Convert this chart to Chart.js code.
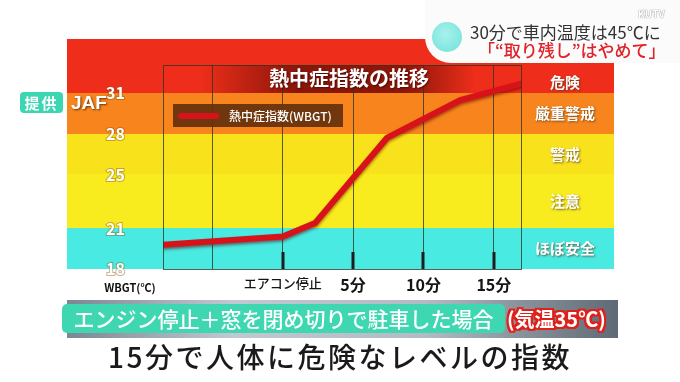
<!DOCTYPE html>
<html><head><meta charset="utf-8">
<script src="https://cdn.jsdelivr.net/npm/chart.js@4/dist/chart.umd.min.js"></script>
<style>
html,body{margin:0;padding:0;background:#fff;width:680px;height:382px;overflow:hidden;font-family:"Noto Sans CJK JP",sans-serif;}
#wrap{position:relative;width:680px;height:382px;}
canvas{position:absolute;left:0;top:0;}
.abs{position:absolute;white-space:nowrap;}
</style></head><body>
<div id="wrap">
<canvas id="c" width="680" height="382"></canvas>
<div class="abs" style="left:425px;top:0;width:255px;height:63px;background:#fbfbfb;border-bottom-left-radius:26px;"></div>
<div class="abs" style="left:432px;top:22px;width:30px;height:30px;border-radius:50%;background:radial-gradient(circle at 45% 40%,#a8f2ec,#6fe0d8);"></div>
<div class="abs" style="left:470px;top:21px;font-size:17px;line-height:22px;color:#333;">30分で車内温度は45℃に</div>
<div class="abs" style="left:478px;top:39px;font-size:17px;line-height:22px;color:#e0222a;font-weight:500;">「“取り残し”はやめて」</div>
<div class="abs" style="left:638px;top:6px;font-size:10px;font-weight:bold;color:#fff;text-shadow:0 0 1px #888,0 0 1px #888;">KUTV</div>
<div class="abs" style="left:20px;top:92px;width:43px;height:21px;background:#3cd6b2;border-radius:4px;color:#fff;font-size:15px;line-height:21px;font-weight:bold;text-align:center;letter-spacing:2px;">提供</div>
<div class="abs" style="left:71px;top:90px;font-size:19px;line-height:26px;color:#fff;font-weight:bold;font-family:'Liberation Sans',sans-serif;text-shadow:1px 1px 2px rgba(80,30,0,0.8);">JAF</div>
<div class="abs" style="left:67px;top:300px;width:551px;height:38px;background:linear-gradient(90deg,#7c8794,#c2c8cf 30%,#b3bac2 65%,#5f6a76);"></div>
<div class="abs" style="left:62px;top:304px;width:443px;height:29px;background:#3fd7b2;border-radius:5px;color:#fff;font-size:21px;line-height:29px;font-weight:500;text-align:center;">エンジン停止＋窓を閉め切りで駐車した場合</div>
<div class="abs" style="left:507px;top:304px;font-size:20px;line-height:29px;color:#fff;font-weight:bold;text-shadow:2px 0 0 #e0201a,-2px 0 0 #e0201a,0 2px 0 #e0201a,0 -2px 0 #e0201a,2px 2px 0 #e0201a,-2px -2px 0 #e0201a,2px -2px 0 #e0201a,-2px 2px 0 #e0201a;">(気温35℃)</div>
<div class="abs" style="left:0;top:338px;width:680px;text-align:center;font-size:28px;line-height:36px;color:#1a1a1a;font-weight:500;letter-spacing:2.5px;">15分で人体に危険なレベルの指数</div>
</div>
<script>
// ---- data ----
const times = [-8.5, 0, 2.3, 7.4, 12.6, 16.9];          // minutes relative to A/C stop
const wbgt = [19.8, 20.4, 21.4, 27.7, 30.5, 31.7];      // WBGT (°C)
const xTickValues = [-5, 0, 5, 10, 15];
const xTickLabels = ['', 'エアコン停止', '5分', '10分', '15分'];
const yTickValues = [18, 21, 25, 28, 31];
const bandEdges = [18, 21, 25, 28, 31, 35];
const bandNames = ['ほぼ安全', '注意', '警戒', '厳重警戒', '危険'];
const seriesLabel = '熱中症指数(WBGT)';
const chartTitle = '熱中症指数の推移';
const yUnit = 'WBGT(℃)';

const bandColors = ['#48eae2', '#f8ec1e', '#f8e21c', '#f7841c', '#ee2e1a'];
const FONT = '"Noto Sans CJK JP", sans-serif';
const gridColor = 'rgba(45,55,35,0.8)';

const decor = {
  id: 'decor',
  beforeDraw(chart) {
    const {ctx, chartArea: a, scales: {y}} = chart;
    ctx.save();
    for (let i = 0; i < bandNames.length; i++) {
      const yt = Math.round(y.getPixelForValue(bandEdges[i + 1]));
      const yb = Math.round(y.getPixelForValue(bandEdges[i]));
      ctx.fillStyle = bandColors[i];
      ctx.fillRect(67, yt, 547, yb - yt);
    }
    const g = ctx.createLinearGradient(200, 0, 475, 0);
    g.addColorStop(0, 'rgba(130,20,8,0)');
    g.addColorStop(0.35, 'rgba(130,20,8,0.92)');
    g.addColorStop(0.75, 'rgba(130,20,8,0.9)');
    g.addColorStop(1, 'rgba(130,20,8,0)');
    ctx.fillStyle = g;
    ctx.fillRect(200, a.top, 275, 28);
    ctx.restore();
  },
  beforeDatasetDraw(chart) {
    const ctx = chart.ctx;
    ctx.save();
    ctx.shadowColor = 'rgba(100,0,0,0.55)';
    ctx.shadowBlur = 3;
    ctx.shadowOffsetY = 2;
  },
  afterDatasetDraw(chart) { chart.ctx.restore(); },
  afterDraw(chart) {
    const {ctx, chartArea: a, scales: {x, y}} = chart;
    ctx.save();
    ctx.strokeStyle = gridColor; ctx.lineWidth = 1;
    ctx.strokeRect(a.left + 0.5, a.top + 0.5, a.right - a.left - 1, a.bottom - a.top);
    ctx.strokeStyle = '#1e1e1e'; ctx.lineWidth = 3;
    xTickValues.forEach((v, i) => {
      if (!xTickLabels[i]) return;
      const px = Math.round(x.getPixelForValue(v));
      ctx.beginPath(); ctx.moveTo(px, a.bottom); ctx.lineTo(px, a.bottom - 17); ctx.stroke();
    });
    ctx.fillStyle = 'rgba(100,48,12,0.92)';
    ctx.fillRect(173, 104, 170, 23);
    ctx.strokeStyle = chart.data.datasets[0].borderColor; ctx.lineWidth = 6; ctx.lineCap = 'round';
    ctx.beginPath(); ctx.moveTo(181, 116); ctx.lineTo(216, 116); ctx.stroke();
    ctx.fillStyle = '#fff'; ctx.font = '500 12px ' + FONT; ctx.textBaseline = 'middle'; ctx.textAlign = 'left';
    ctx.fillText(chart.data.datasets[0].label, 229, 116);
    ctx.font = 'bold 20px ' + FONT; ctx.textAlign = 'center';
    ctx.shadowColor = 'rgba(60,0,0,0.7)'; ctx.shadowBlur = 2; ctx.shadowOffsetX = 1; ctx.shadowOffsetY = 1;
    ctx.fillText(chartTitle, 349, 78);
    ctx.font = 'bold 15px ' + FONT;
    ctx.shadowColor = 'rgba(90,60,20,0.75)'; ctx.shadowBlur = 2;
    const yMax = y.max;
    bandNames.forEach((n, i) => {
      const mid = (bandEdges[i] + Math.min(bandEdges[i + 1], yMax)) / 2;
      ctx.fillText(n, 565, y.getPixelForValue(mid) + (i === 4 ? 3 : 0));
    });
    ctx.shadowColor = 'transparent';
    ctx.fillStyle = '#111'; ctx.font = 'bold 11px ' + FONT;
    ctx.fillText(yUnit, 130, 288);
    ctx.restore();
  }
};

new Chart(document.getElementById('c'), {
  type: 'line',
  data: {
    datasets: [{
      label: seriesLabel,
      data: times.map((t, i) => ({x: t, y: wbgt[i]})),
      borderColor: '#d8121a',
      borderWidth: 6,
      pointRadius: 0,
      tension: 0,
      borderCapStyle: 'round',
      borderJoinStyle: 'round'
    }]
  },
  options: {
    responsive: false,
    devicePixelRatio: 1,
    animation: false,
    layout: {padding: {left: 0, top: 65, right: 158, bottom: 0}},
    plugins: {legend: {display: false}, tooltip: {enabled: false}, title: {display: false}},
    scales: {
      x: {
        type: 'linear', min: -8.5, max: 17,
        afterBuildTicks: s => { s.ticks = xTickValues.map(v => ({value: v})); },
        afterFit: s => { s.height = 113; },
        border: {display: false},
        grid: {color: gridColor, lineWidth: 1, drawTicks: false},
        ticks: {
          padding: 6, autoSkip: false, maxRotation: 0, color: '#151515',
          font: c => c.index === 1 ? {family: FONT, size: 13, weight: '500'} : {family: FONT, size: 16, weight: 'bold'},
          callback: (v, i) => xTickLabels[i]
        }
      },
      y: {
        type: 'linear', min: 18, max: 33.1,
        afterBuildTicks: s => { s.ticks = yTickValues.map(v => ({value: v})); },
        afterFit: s => { s.width = 163; },
        border: {display: false},
        grid: {display: false},
        ticks: {
          padding: 30, color: '#ffffff', font: {family: FONT, size: 16, weight: 'bold'},
          textStrokeColor: 'rgba(140,90,20,0.45)', textStrokeWidth: 2
        }
      }
    }
  },
  plugins: [decor]
});
</script>
</body></html>
